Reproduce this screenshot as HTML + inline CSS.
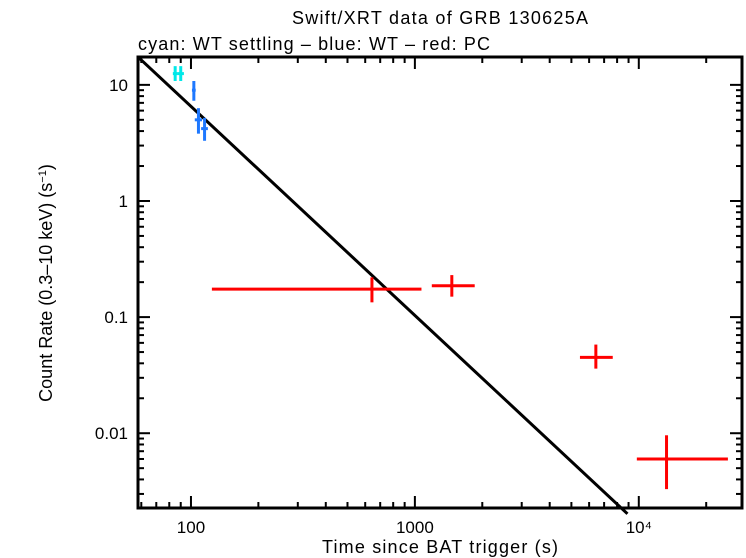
<!DOCTYPE html>
<html><head><meta charset="utf-8"><style>
body{margin:0;background:#fff}
svg{display:block;font-family:"Liberation Sans",sans-serif}
</style></head><body>
<svg id="c" width="746" height="558">
<text x="440" y="24" font-size="18" text-anchor="middle" textLength="296">Swift/XRT data of GRB 130625A</text>
<text x="138" y="50" font-size="18" textLength="352">cyan: WT settling – blue: WT – red: PC</text>
<text x="440" y="553" font-size="18" text-anchor="middle" textLength="236">Time since BAT trigger (s)</text>
<text transform="translate(52,283) rotate(-90)" font-size="18" text-anchor="middle">Count Rate (0.3–10 keV) (s<tspan font-size="11" dy="-6">−1</tspan><tspan dy="6">)</tspan></text>
<g id="plot"></g>
</svg>
<script>
const cyanT=[85,90], cyanR=[12.5,12.5], cyanTlo=[83,87], cyanThi=[87,93], cyanRlo=[10.8,10.8], cyanRhi=[14.5,14.5];
const blueT=[103,108,115], blueR=[9.0,5.0,4.2], blueTlo=[101,104,111], blueThi=[105,112,119], blueRlo=[7.3,3.8,3.3], blueRhi=[10.8,6.3,5.2];
const redT=[643,1462,6430,13300], redR=[0.174,0.186,0.045,0.006];
const redTlo=[124,1190,5460,9800], redThi=[1070,1850,7650,25000];
const redRlo=[0.134,0.150,0.036,0.0033], redRhi=[0.22,0.23,0.058,0.0096];
const fitT=[58,8900], fitNorm=17.4, fitT0=58, fitSlope=-1.80;
const xTickVals=[100,1000,10000], xTickLabels=["100","1000","10⁴"];
const yTickVals=[10,1,0.1,0.01], yTickLabels=["10","1","0.1","0.01"];
const L=138,R=742,T=57,B=508;
const xmin=Math.log10(58),xmax=Math.log10(28900),ymin=-2.644,ymax=1.24;
const X=t=>L+(Math.log10(t)-xmin)/(xmax-xmin)*(R-L);
const Y=v=>B-(Math.log10(v)-ymin)/(ymax-ymin)*(B-T);
const g=document.getElementById('plot');const NS="http://www.w3.org/2000/svg";
function ln(x1,y1,x2,y2,c,w,name){const e=document.createElementNS(NS,'line');
e.setAttribute('x1',x1);e.setAttribute('y1',y1);e.setAttribute('x2',x2);e.setAttribute('y2',y2);
e.setAttribute('stroke',c);e.setAttribute('stroke-width',w);


g.appendChild(e);return e;}
for(let d=10;d<=10000;d*=10)for(let k=1;k<10;k++){const t=d*k;if(t<58||t>28900)continue;const x=X(t);const len=k==1?12:6;
ln(x,B,x,B-len,'#000',2,'x-tick');ln(x,T,x,T+len,'#000',2,'x-tick-top');}
for(let d=0.001;d<=10;d*=10)for(let k=1;k<10;k++){const v=d*k;if(Math.log10(v)<ymin||Math.log10(v)>ymax)continue;const y=Y(v);const len=k==1?12:6;
ln(L,y,L+len,y,'#000',2,'y-tick');ln(R,y,R-len,y,'#000',2,'y-tick-right');}
xTickVals.forEach((v,i)=>{const e=document.createElementNS(NS,'text');e.setAttribute('x',X(v));e.setAttribute('y',533);e.setAttribute('font-size','17');e.setAttribute('text-anchor','middle');e.textContent=xTickLabels[i];


g.appendChild(e);});
yTickVals.forEach((v,i)=>{const e=document.createElementNS(NS,'text');e.setAttribute('x',128);e.setAttribute('y',Y(v)+6);e.setAttribute('font-size','17');e.setAttribute('text-anchor','end');e.textContent=yTickLabels[i];


g.appendChild(e);});
const fy=t=>fitNorm*Math.pow(t/fitT0,fitSlope);
ln(X(fitT[0]),Y(fy(fitT[0])),X(fitT[1]),Y(fy(fitT[1])),'#000',3,'power-law-fit');
function series(T_,Rr,tl,th,rl,rh,c,w,name){T_.forEach((t,i)=>{
ln(X(tl[i]),Y(Rr[i]),X(th[i]),Y(Rr[i]),c,w,name+'-xerr');
ln(X(t),Y(rl[i]),X(t),Y(rh[i]),c,w,name+'-yerr');});}
series(cyanT,cyanR,cyanTlo,cyanThi,cyanRlo,cyanRhi,'#00e8e8',3,'wt-settling-point');
series(blueT,blueR,blueTlo,blueThi,blueRlo,blueRhi,'#1e78ff',3,'wt-point');
series(redT,redR,redTlo,redThi,redRlo,redRhi,'#ff0000',3,'pc-point');
const f=document.createElementNS(NS,'rect');f.setAttribute('x',L);f.setAttribute('y',T);f.setAttribute('width',R-L);f.setAttribute('height',B-T);f.setAttribute('fill','none');f.setAttribute('stroke','#000');f.setAttribute('stroke-width','3');


g.appendChild(f);
</script>
</body></html>
